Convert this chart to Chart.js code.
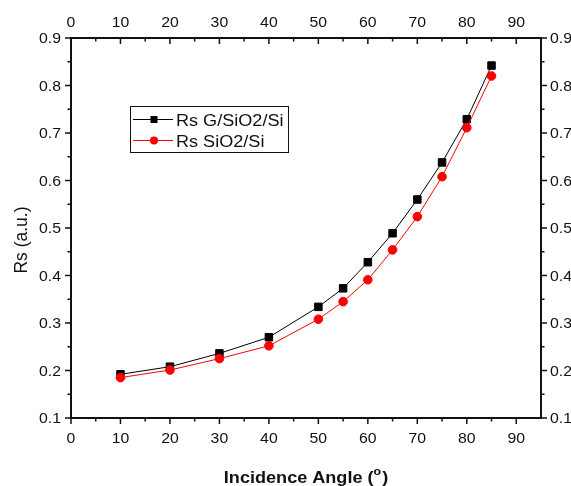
<!DOCTYPE html>
<html>
<head>
<meta charset="utf-8">
<script src="https://cdn.jsdelivr.net/npm/chart.js@4.4.0/dist/chart.umd.min.js"></script>
<style>
html,body{margin:0;padding:0;background:#fff;}
#wrap{position:relative;width:571px;height:486px;}
</style>
</head>
<body>
<div id="wrap"><canvas id="c" width="571" height="486"></canvas></div>
<script>
const angles = [10, 20, 30, 40, 50, 55, 60, 65, 70, 75, 80, 85];
const rsGSiO2Si = [0.192, 0.208, 0.236, 0.270, 0.334, 0.373, 0.428, 0.489, 0.560, 0.638, 0.729, 0.842];
const rsSiO2Si = [0.185, 0.201, 0.225, 0.252, 0.308, 0.345, 0.391, 0.454, 0.524, 0.608, 0.711, 0.820];
const xTicks = [0, 10, 20, 30, 40, 50, 60, 70, 80, 90];
const yTicks = [0.1, 0.2, 0.3, 0.4, 0.5, 0.6, 0.7, 0.8, 0.9];
const xMinor = [5, 15, 25, 35, 45, 55, 65, 75, 85];
const yMinor = [0.15, 0.25, 0.35, 0.45, 0.55, 0.65, 0.75, 0.85];
const seriesNames = ['Rs G/SiO2/Si', 'Rs SiO2/Si'];
const xTitle = 'Incidence Angle (';
const yTitle = 'Rs (a.u.)';

const FONT = '"Liberation Sans", Arial, sans-serif';
const SX = 1.13; // horizontal text stretch seen in the reference

function pts(ys){ return angles.map((a,i)=>({x:a, y:ys[i]})); }

const setTicks = arr => scale => { scale.ticks = arr.map(v => ({value: v})); };

// draw text with horizontal stretch; align: 'left' | 'right' | 'center'
function sText(ctx, txt, x, y, align) {
  const w = ctx.measureText(txt).width * SX;
  let x0 = x;
  if (align === 'right') x0 = x - w;
  else if (align === 'center') x0 = x - w / 2;
  ctx.save();
  ctx.translate(x0, y);
  ctx.scale(SX, 1);
  ctx.textAlign = 'left';
  ctx.fillText(txt, 0, 0);
  ctx.restore();
  return w;
}

const decor = {
  id: 'decor',
  afterDraw(chart) {
    const ctx = chart.ctx;
    const ca = chart.chartArea;
    const xs = chart.scales.x, ys = chart.scales.y;
    ctx.save();
    ctx.strokeStyle = '#111';
    ctx.lineWidth = 2;
    ctx.strokeRect(ca.left, ca.top, ca.right - ca.left, ca.bottom - ca.top);
    ctx.lineWidth = 1.5;
    ctx.beginPath();
    const MAJ = 6, MIN = 3.5;
    xTicks.forEach(v => { const p = xs.getPixelForValue(v);
      ctx.moveTo(p, ca.bottom); ctx.lineTo(p, ca.bottom + MAJ);
      ctx.moveTo(p, ca.top); ctx.lineTo(p, ca.top + MAJ); });
    xMinor.forEach(v => { const p = xs.getPixelForValue(v);
      ctx.moveTo(p, ca.bottom); ctx.lineTo(p, ca.bottom + MIN);
      ctx.moveTo(p, ca.top); ctx.lineTo(p, ca.top + MIN); });
    yTicks.forEach(v => { const p = ys.getPixelForValue(v);
      ctx.moveTo(ca.left, p); ctx.lineTo(ca.left - MAJ, p);
      ctx.moveTo(ca.right, p); ctx.lineTo(ca.right + MAJ, p); });
    yMinor.forEach(v => { const p = ys.getPixelForValue(v);
      ctx.moveTo(ca.left, p); ctx.lineTo(ca.left - MIN, p);
      ctx.moveTo(ca.right, p); ctx.lineTo(ca.right + MIN, p); });
    ctx.stroke();

    // tick labels
    ctx.fillStyle = '#111';
    ctx.font = '14px ' + FONT;
    ctx.textBaseline = 'alphabetic';
    xTicks.forEach(v => { const p = xs.getPixelForValue(v);
      sText(ctx, String(v), p, ca.bottom + 25, 'center');
      sText(ctx, String(v), p, ca.top - 11, 'center'); });
    yTicks.forEach(v => { const p = ys.getPixelForValue(v);
      sText(ctx, v.toFixed(1), ca.left - 10, p + 5, 'right');
      sText(ctx, v.toFixed(1), ca.right + 9, p + 5, 'left'); });

    // Y title
    ctx.save();
    ctx.translate(27, (ca.top + ca.bottom) / 2 + 12);
    ctx.rotate(-Math.PI / 2);
    ctx.font = '17.5px ' + FONT;
    ctx.textAlign = 'center';
    ctx.textBaseline = 'alphabetic';
    ctx.fillText(yTitle, 0, 0);
    ctx.restore();

    // X title with superscript
    ctx.font = 'bold 16px ' + FONT;
    const w1 = ctx.measureText(xTitle).width * SX;
    const wc = ctx.measureText(')').width * SX;
    ctx.font = 'bold 11px ' + FONT;
    const wo = ctx.measureText('o').width * SX;
    const total = w1 + wo + wc + 1;
    const x0 = (ca.left + ca.right) / 2 - total / 2;
    const base = 483;
    ctx.font = 'bold 16px ' + FONT;
    sText(ctx, xTitle, x0, base, 'left');
    ctx.font = 'bold 11px ' + FONT;
    sText(ctx, 'o', x0 + w1, base - 8, 'left');
    ctx.font = 'bold 16px ' + FONT;
    sText(ctx, ')', x0 + w1 + wo + 1, base, 'left');

    // Legend
    const L = {x: 130, y: 106, w: 158, h: 46};
    ctx.lineWidth = 1;
    ctx.strokeStyle = '#111';
    ctx.strokeRect(L.x + 0.5, L.y + 0.5, L.w, L.h);
    const rows = [119.5, 140.5];
    chart.data.datasets.forEach((ds, i) => {
      const y = rows[i];
      ctx.strokeStyle = ds.borderColor;
      ctx.lineWidth = 1;
      ctx.beginPath(); ctx.moveTo(133, y); ctx.lineTo(173, y); ctx.stroke();
      ctx.fillStyle = ds.pointBackgroundColor;
      if (ds.pointStyle === 'rect') {
        ctx.fillRect(154 - 3.5, y - 3.5, 7, 7);
      } else {
        ctx.beginPath(); ctx.arc(154, y, 4, 0, Math.PI * 2); ctx.fill();
      }
      ctx.fillStyle = '#111';
      ctx.font = '16px ' + FONT;
      ctx.textBaseline = 'alphabetic';
      sText(ctx, seriesNames[i], 176, y + 6, 'left');
    });
    ctx.restore();
  }
};

const tickOpts = { display: false };

new Chart(document.getElementById('c'), {
  type: 'line',
  data: {
    datasets: [
      { label: seriesNames[0], data: pts(rsGSiO2Si), borderColor: '#000', backgroundColor: '#000',
        pointBackgroundColor: '#000', pointBorderColor: '#000', pointStyle: 'rect', pointRadius: 5.3,
        pointBorderWidth: 1, borderWidth: 1, order: 2, xAxisID: 'x', yAxisID: 'y' },
      { label: seriesNames[1], data: pts(rsSiO2Si), borderColor: '#ff0000', backgroundColor: '#ff0000',
        pointBackgroundColor: '#ff0000', pointBorderColor: '#ff0000', pointStyle: 'circle', pointRadius: 4.3,
        pointBorderWidth: 1, borderWidth: 1, order: 1, xAxisID: 'x', yAxisID: 'y' }
    ]
  },
  options: {
    responsive: false,
    animation: false,
    events: [],
    layout: { padding: 0 },
    plugins: { legend: { display: false }, tooltip: { enabled: false } },
    scales: {
      x: { type: 'linear', position: 'bottom', min: 0, max: 95,
        afterBuildTicks: setTicks(xTicks),
        afterFit: s => { s.height = 68; },
        grid: { display: false, drawTicks: false, tickLength: 0 }, border: { display: false },
        ticks: tickOpts },
      x2: { type: 'linear', position: 'top', min: 0, max: 95,
        afterBuildTicks: setTicks(xTicks),
        afterFit: s => { s.height = 38; },
        grid: { display: false, drawTicks: false, tickLength: 0 }, border: { display: false },
        ticks: tickOpts },
      y: { type: 'linear', position: 'left', min: 0.1, max: 0.9,
        afterBuildTicks: setTicks(yTicks),
        afterFit: s => { s.width = 71; },
        grid: { display: false, drawTicks: false, tickLength: 0 }, border: { display: false },
        ticks: tickOpts },
      y2: { type: 'linear', position: 'right', min: 0.1, max: 0.9,
        afterBuildTicks: setTicks(yTicks),
        afterFit: s => { s.width = 30; },
        grid: { display: false, drawTicks: false, tickLength: 0 }, border: { display: false },
        ticks: tickOpts }
    }
  },
  plugins: [decor]
});
</script>
</body>
</html>
